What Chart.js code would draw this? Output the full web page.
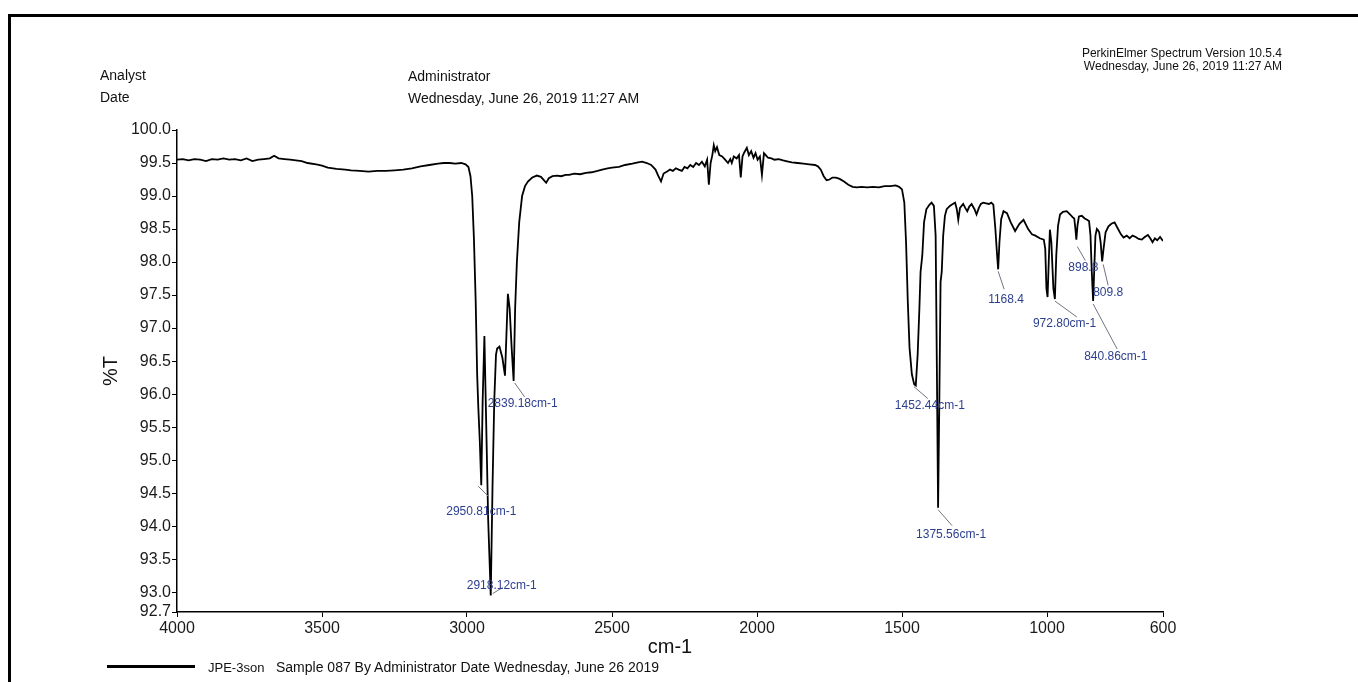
<!DOCTYPE html>
<html>
<head>
<meta charset="utf-8">
<script src="https://cdn.jsdelivr.net/npm/chart.js@4.4.1/dist/chart.umd.min.js"></script>
<style>
  html, body { margin: 0; padding: 0; background: #fff; }
  #wrap { position: relative; width: 1358px; height: 682px; overflow: hidden; font-family: 'Liberation Sans', Arial, sans-serif; color: #111; }
  #frame { position: absolute; left: 8px; top: 14px; width: 1400px; height: 700px; border-top: 3px solid #000; border-left: 3px solid #000; }
  canvas { position: absolute; left: 0; top: 0; }
  .txt { position: absolute; white-space: nowrap; line-height: 1; transform: translateY(-50%); }
  .hdr { font-size: 14px; }
  .sw { font-size: 12px; }
  .leg { font-size: 14px; }
  #legline { position: absolute; left: 107px; top: 665px; width: 88px; height: 3px; background: #000; }
</style>
</head>
<body>
<div id="wrap">
  <div id="frame"></div>
  <canvas id="irChart" width="1358" height="682"></canvas>
  <div class="txt hdr" style="left:100px; top:75px;">Analyst</div>
  <div class="txt hdr" style="left:100px; top:97px;">Date</div>
  <div class="txt hdr" style="left:408px; top:76px;">Administrator</div>
  <div class="txt hdr" style="left:408px; top:98px;">Wednesday, June 26, 2019 11:27 AM</div>
  <div class="txt sw" style="right:76px; top:53px;">PerkinElmer Spectrum Version 10.5.4</div>
  <div class="txt sw" style="right:76px; top:66px;">Wednesday, June 26, 2019 11:27 AM</div>
  <div id="legline"></div>
  <div class="txt leg" style="left:208px; top:667px; font-size:13px;">JPE-3son</div>
  <div class="txt leg" style="left:276px; top:667px;">Sample 087 By Administrator Date Wednesday, June 26 2019</div>
</div>
<script>
// IR spectrum (cm-1 vs %T)
const wavenumbers = [
  4000, 3980, 3960, 3940, 3920, 3900, 3880, 3860, 3840, 3820,
  3800, 3780, 3760, 3740, 3720, 3700, 3680, 3665, 3650, 3630,
  3610, 3590, 3570, 3550, 3520, 3500, 3480, 3450, 3420, 3400,
  3370, 3340, 3310, 3280, 3250, 3220, 3190, 3160, 3130, 3100,
  3080, 3060, 3040, 3020, 3005, 2995, 2988, 2982, 2976, 2970,
  2965, 2961, 2956, 2950.81, 2946, 2940, 2934, 2927, 2918.12, 2912,
  2906, 2900, 2896, 2888, 2878, 2869, 2864, 2859, 2853, 2846,
  2839.18, 2834, 2828, 2820, 2810, 2800, 2790, 2775, 2759, 2745,
  2735, 2727, 2718, 2705, 2690, 2675, 2660, 2648, 2630, 2610,
  2590, 2570, 2550, 2534, 2515, 2500, 2476, 2455, 2430, 2410,
  2396, 2380, 2365, 2350, 2340, 2331, 2322, 2310, 2300, 2290,
  2280, 2270, 2259, 2250, 2240, 2230, 2220, 2210, 2200, 2190,
  2180, 2172, 2166, 2160, 2154, 2149, 2144, 2138, 2130, 2120,
  2110, 2100, 2092, 2087, 2080, 2070, 2062, 2056, 2050, 2044,
  2035, 2028, 2020, 2012, 2005, 1998, 1990, 1983, 1976, 1970,
  1962, 1950, 1940, 1925, 1910, 1900, 1880, 1860, 1840, 1820,
  1800, 1790, 1780, 1770, 1760, 1750, 1740, 1728, 1715, 1700,
  1685, 1670, 1655, 1640, 1620, 1600, 1580, 1560, 1540, 1522,
  1510, 1500, 1492, 1486, 1480, 1474, 1466, 1458, 1452.44, 1446,
  1440, 1436, 1430, 1424, 1416, 1405, 1398, 1390, 1384, 1380,
  1375.56, 1371, 1367, 1363, 1358, 1352, 1346, 1335, 1325, 1317,
  1311, 1306, 1300, 1289, 1282, 1275, 1268, 1260, 1250, 1243,
  1235, 1228, 1220, 1210, 1200, 1192, 1185, 1178, 1172, 1168.4,
  1164, 1158, 1150, 1138, 1125, 1110, 1095, 1081, 1065, 1052,
  1040, 1025, 1011, 1006, 1002, 998, 994, 990, 985, 978,
  972.8, 968, 962, 955, 945, 932, 920, 912, 906, 902,
  898.8, 895, 890, 880, 870, 862, 855, 850, 846, 843,
  840.86, 837, 833, 828, 824, 820, 815, 809.8, 805, 798,
  788, 778, 767, 755, 745, 736, 725, 715, 705, 694,
  684, 673, 663, 652, 644, 636, 628, 620, 610, 600
];
const transmittance = [
  99.55, 99.56, 99.54, 99.56, 99.55, 99.53, 99.56, 99.55, 99.57, 99.55,
  99.56, 99.54, 99.57, 99.53, 99.55, 99.56, 99.57, 99.61, 99.57, 99.56,
  99.55, 99.54, 99.53, 99.5, 99.48, 99.46, 99.43, 99.41, 99.4, 99.39,
  99.38, 99.37, 99.38, 99.38, 99.39, 99.4, 99.42, 99.45, 99.47, 99.49,
  99.5, 99.5, 99.49, 99.5, 99.48, 99.44, 99.3, 99.0, 98.34, 97.4,
  96.3, 95.8, 95.3, 94.62, 95.9, 96.88, 95.6, 94.1, 92.95, 94.6,
  95.9, 96.6, 96.69, 96.72, 96.55, 96.28, 96.9, 97.52, 97.3, 96.7,
  96.2, 97.3, 98.0, 98.6, 99.0, 99.15, 99.22, 99.28, 99.31, 99.29,
  99.24, 99.2, 99.27, 99.3, 99.31, 99.3, 99.32, 99.32, 99.34, 99.33,
  99.35, 99.36, 99.38, 99.4, 99.42, 99.43, 99.44, 99.47, 99.49, 99.51,
  99.52, 99.5, 99.47, 99.4, 99.3, 99.22, 99.34, 99.37, 99.4, 99.38,
  99.42, 99.4, 99.38, 99.44, 99.42, 99.47, 99.44, 99.5, 99.47, 99.52,
  99.45, 99.55, 99.17, 99.5, 99.62, 99.77, 99.68, 99.74, 99.62, 99.6,
  99.55, 99.5, 99.56, 99.5, 99.6, 99.57, 99.62, 99.28, 99.6, 99.66,
  99.73, 99.62, 99.68, 99.58, 99.65, 99.55, 99.6, 99.32, 99.65, 99.62,
  99.58, 99.57, 99.55, 99.56, 99.54, 99.53, 99.51, 99.5, 99.49, 99.48,
  99.47, 99.45, 99.4, 99.3, 99.24, 99.25, 99.28, 99.28, 99.26, 99.22,
  99.17, 99.14, 99.13, 99.14, 99.13, 99.14, 99.13, 99.15, 99.15, 99.16,
  99.14, 99.1, 98.9, 98.3, 97.4, 96.7, 96.3, 96.15, 96.13, 96.6,
  97.3, 97.85, 98.1, 98.6, 98.8, 98.87, 98.9, 98.85, 98.4, 96.5,
  94.28, 96.0, 97.7, 97.85, 98.4, 98.7, 98.8, 98.85, 98.88, 98.9,
  98.8, 98.64, 98.82, 98.88, 98.82, 98.77, 98.84, 98.88, 98.8, 98.72,
  98.82, 98.88, 98.9, 98.89, 98.88, 98.9, 98.87, 98.5, 98.1, 97.89,
  98.3, 98.65, 98.77, 98.74, 98.6, 98.47, 98.58, 98.64, 98.5, 98.42,
  98.4, 98.36, 98.34, 98.2, 97.6, 97.47, 98.0, 98.49, 98.3, 97.6,
  97.44, 98.1, 98.55, 98.72, 98.76, 98.77, 98.72, 98.68, 98.66, 98.5,
  98.34, 98.55, 98.69, 98.7, 98.66, 98.64, 98.62, 98.4, 97.9, 97.6,
  97.41, 97.9, 98.4, 98.5, 98.48, 98.45, 98.3, 98.01, 98.2, 98.45,
  98.54, 98.58, 98.6, 98.5, 98.42, 98.37, 98.4, 98.36, 98.4, 98.38,
  98.35, 98.34, 98.38, 98.41, 98.36, 98.3, 98.36, 98.33, 98.38, 98.32
];

const xTicks = [4000, 3500, 3000, 2500, 2000, 1500, 1000, 600];
const yTicks = [92.7, 93.0, 93.5, 94.0, 94.5, 95.0, 95.5, 96.0, 96.5, 97.0, 97.5, 98.0, 98.5, 99.0, 99.5, 100.0];

// picked peaks
const peakWavenumbers = [2839.18, 2950.81, 2918.12, 1452.44, 1375.56, 1168.4, 972.8, 898.8, 840.86, 809.8];
const peakLabels = ['2839.18cm-1', '2950.81cm-1', '2918.12cm-1', '1452.44cm-1', '1375.56cm-1', '1168.4', '972.80cm-1', '898.8', '840.86cm-1', '809.8'];

// where each label sits relative to its peak (px): text x/y, leader from -> to
const peakLabelOffsets = [
  { tx: -26, ty: 23, lead: [1, 2, 11, 16] },
  { tx: -35, ty: 26, lead: [-3, 1, 7, 11] },
  { tx: -24, ty: -10, lead: [2, -2, 12, -8] },
  { tx: -21, ty: 20, lead: [-2, 1, 12, 13] },
  { tx: -22, ty: 27, lead: [0, 2, 14, 18] },
  { tx: -10, ty: 30, lead: [0, 2, 6, 20] },
  { tx: -22, ty: 25, lead: [0, 2, 22, 18] },
  { tx: -8, ty: 28, lead: [1, 7, 9, 21] },
  { tx: -9, ty: 56, lead: [0, 3, 24, 48] },
  { tx: -9, ty: 31, lead: [1, 3, 6, 24] }
];

const points = wavenumbers.map((wn, i) => ({ x: wn, y: transmittance[i] }));

const peakLabelPlugin = {
  id: 'peakLabels',
  afterDatasetsDraw(chart) {
    const { ctx, scales: { x, y } } = chart;
    ctx.save();
    ctx.font = '12px "Liberation Sans", Arial, sans-serif';
    ctx.textBaseline = 'middle';
    ctx.textAlign = 'left';
    peakWavenumbers.forEach((wn, i) => {
      const idx = wavenumbers.indexOf(wn);
      const px = x.getPixelForValue(wn);
      const py = y.getPixelForValue(transmittance[idx]);
      const o = peakLabelOffsets[i];
      ctx.strokeStyle = '#6f7480';
      ctx.lineWidth = 1;
      ctx.beginPath();
      ctx.moveTo(px + o.lead[0], py + o.lead[1]);
      ctx.lineTo(px + o.lead[2], py + o.lead[3]);
      ctx.stroke();
      ctx.fillStyle = '#2c3f8f';
      ctx.fillText(peakLabels[i], px + o.tx, py + o.ty);
    });
    ctx.restore();
  }
};

const tickFont = { family: '"Liberation Sans", Arial, sans-serif', size: 16 };
const titleFont = { family: '"Liberation Sans", Arial, sans-serif', size: 20 };

new Chart(document.getElementById('irChart').getContext('2d'), {
  type: 'scatter',
  data: {
    datasets: [{
      label: 'JPE-3son',
      data: points,
      showLine: true,
      borderColor: '#000',
      borderWidth: 1.8,
      pointRadius: 0,
      tension: 0
    }]
  },
  options: {
    responsive: false,
    animation: false,
    layout: { padding: { left: 0, top: 130, right: 195, bottom: 0 } },
    plugins: {
      legend: { display: false },
      tooltip: { enabled: false }
    },
    scales: {
      x: {
        type: 'linear',
        reverse: true,
        min: 600,
        max: 4000,
        afterBuildTicks: (scale) => { scale.ticks = xTicks.map(v => ({ value: v })); },
        afterFit: (scale) => { scale.height = 70; },
        ticks: { font: tickFont, color: '#1a1a1a', padding: 2, maxRotation: 0, autoSkip: false, callback: (v) => String(v) },
        grid: { drawOnChartArea: false, drawTicks: true, tickLength: 5, color: '#000' },
        border: { display: true, color: '#000', width: 1.5 },
        title: { display: true, text: 'cm-1', font: titleFont, color: '#111', padding: { top: 0, bottom: 23 } }
      },
      y: {
        type: 'linear',
        min: 92.7,
        max: 100,
        afterBuildTicks: (scale) => { scale.ticks = yTicks.map(v => ({ value: v })); },
        afterFit: (scale) => { scale.width = 177; },
        ticks: { font: tickFont, color: '#1a1a1a', padding: 1, autoSkip: false, callback: (v) => v.toFixed(1) },
        grid: { drawOnChartArea: false, drawTicks: true, tickLength: 5, color: '#000' },
        border: { display: true, color: '#000', width: 1.5 },
        title: { display: true, text: '%T', font: titleFont, color: '#111', padding: { top: 99, bottom: 0 } }
      }
    }
  },
  plugins: [peakLabelPlugin]
});
</script>
</body>
</html>
